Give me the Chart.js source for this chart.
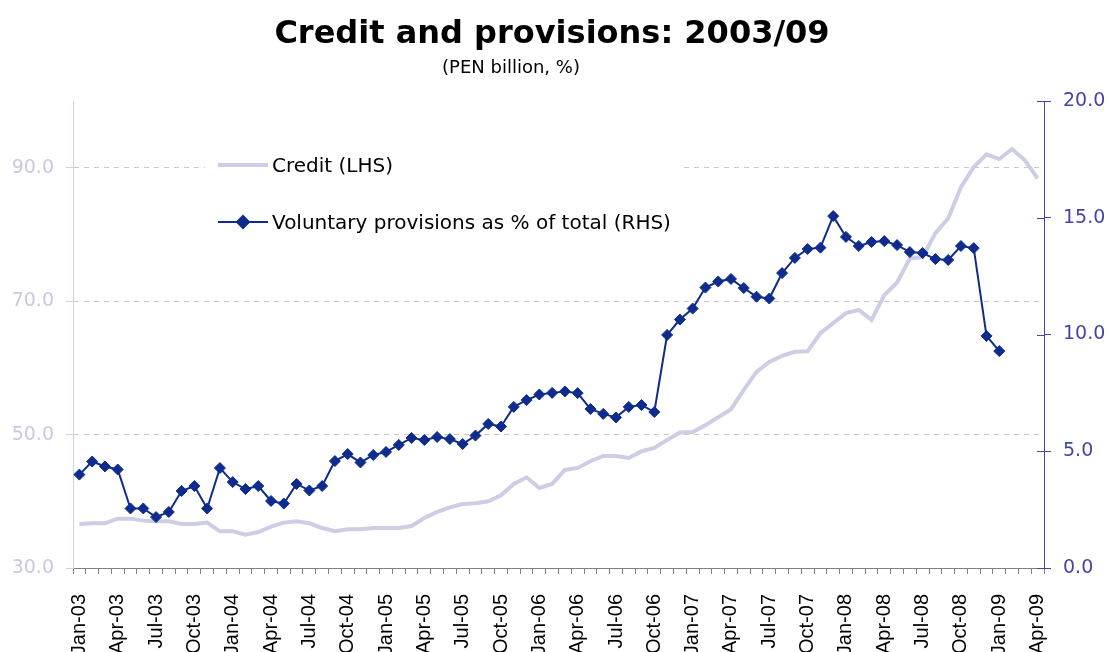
<!DOCTYPE html>
<html>
<head>
<meta charset="utf-8">
<title>Credit and provisions: 2003/09</title>
<script src="https://cdn.jsdelivr.net/npm/chart.js@4.4.1/dist/chart.umd.min.js"></script>
<style>
    html, body { margin: 0; padding: 0; background: #ffffff; }
    #chart_wrap { width: 1109px; height: 652px; }
</style>
</head>
<body>
<div id="chart_wrap"><canvas id="credit_chart" width="1109" height="652"></canvas></div>
<script>
// monthly categories, Jan-03 .. Apr-09
const months = [
    "Jan-03", "Feb-03", "Mar-03", "Apr-03", "May-03", "Jun-03", "Jul-03", "Aug-03", "Sep-03", "Oct-03", "Nov-03", "Dec-03",
    "Jan-04", "Feb-04", "Mar-04", "Apr-04", "May-04", "Jun-04", "Jul-04", "Aug-04", "Sep-04", "Oct-04", "Nov-04", "Dec-04",
    "Jan-05", "Feb-05", "Mar-05", "Apr-05", "May-05", "Jun-05", "Jul-05", "Aug-05", "Sep-05", "Oct-05", "Nov-05", "Dec-05",
    "Jan-06", "Feb-06", "Mar-06", "Apr-06", "May-06", "Jun-06", "Jul-06", "Aug-06", "Sep-06", "Oct-06", "Nov-06", "Dec-06",
    "Jan-07", "Feb-07", "Mar-07", "Apr-07", "May-07", "Jun-07", "Jul-07", "Aug-07", "Sep-07", "Oct-07", "Nov-07", "Dec-07",
    "Jan-08", "Feb-08", "Mar-08", "Apr-08", "May-08", "Jun-08", "Jul-08", "Aug-08", "Sep-08", "Oct-08", "Nov-08", "Dec-08",
    "Jan-09", "Feb-09", "Mar-09", "Apr-09",
];

// Credit, PEN billion (LHS)
const credit = [
    36.6, 36.7, 36.7, 37.4, 37.4, 37.1, 37.0, 37.0, 36.6, 36.6, 36.8, 35.5,
    35.5, 35.0, 35.4, 36.2, 36.8, 37.0, 36.7, 36.0, 35.5, 35.8, 35.8, 36.0,
    36.0, 36.0, 36.3, 37.5, 38.4, 39.1, 39.6, 39.7, 40.0, 40.9, 42.6, 43.6,
    42.0, 42.6, 44.7, 45.0, 46.0, 46.8, 46.8, 46.5, 47.5, 48.0, 49.2, 50.3,
    50.4, 51.4, 52.6, 53.8, 56.7, 59.4, 60.9, 61.8, 62.4, 62.5, 65.2, 66.7,
    68.2, 68.7, 67.2, 70.9, 72.8, 76.4, 76.6, 80.2, 82.4, 87.1, 90.1, 92.0,
    91.3, 92.8, 91.1, 88.4,
];

// Voluntary provisions as % of total (RHS), ends Jan-09
const provisions = [
    4.0, 4.56, 4.35, 4.22, 2.55, 2.55, 2.18, 2.40, 3.30, 3.51, 2.55, 4.28,
    3.68, 3.38, 3.51, 2.87, 2.76, 3.60, 3.32, 3.51, 4.58, 4.88, 4.52, 4.84,
    4.97, 5.27, 5.57, 5.48, 5.61, 5.52, 5.31, 5.67, 6.17, 6.06, 6.90, 7.19,
    7.43, 7.50, 7.56, 7.49, 6.81, 6.60, 6.45, 6.90, 6.98, 6.68, 9.98, 10.64,
    11.11, 12.01, 12.27, 12.38, 11.99, 11.62, 11.54, 12.63, 13.28, 13.66, 13.72, 15.07,
    14.18, 13.79, 13.96, 14.0, 13.83, 13.53, 13.49, 13.23, 13.19, 13.79, 13.70, 9.94,
    9.29,
];

const leftTicks = [30, 50, 70, 90];
const rightTicks = [0, 5, 10, 15, 20];

const creditColor = "#CDCDE6";
const provColor = "#0F2C8C";
const rightAxisColor = "#4545A5";

// title, subtitle and the boxed legend inside the plot
const decorations = {
    id: "decorations",
    afterDraw(chart) {
        const ctx = chart.ctx;
        ctx.save();
        ctx.fillStyle = "#000";
        ctx.textAlign = "center";
        ctx.textBaseline = "alphabetic";
        ctx.font = "bold 32px 'DejaVu Sans'";
        ctx.fillText("Credit and provisions: 2003/09", 552, 43);
        ctx.font = "18px 'DejaVu Sans'";
        ctx.fillText("(PEN billion, %)", 511, 73);

        // right axis ticks cross the axis line in the original
        const y1 = chart.scales.y1;
        ctx.strokeStyle = rightAxisColor;
        ctx.lineWidth = 1;
        rightTicks.forEach((v) => {
            const py = Math.round(y1.getPixelForValue(v)) + 0.5;
            ctx.beginPath();
            ctx.moveTo(y1.left - 7, py);
            ctx.lineTo(y1.left, py);
            ctx.stroke();
        });
        ctx.restore();
    },
    afterDatasetsDraw(chart) {
        const ctx = chart.ctx;
        ctx.save();
        ctx.fillStyle = "#fff";
        ctx.fillRect(205, 146, 477, 96);

        // Credit sample
        ctx.strokeStyle = creditColor;
        ctx.lineWidth = 4;
        ctx.beginPath();
        ctx.moveTo(218, 165);
        ctx.lineTo(268, 165);
        ctx.stroke();

        // Provisions sample
        ctx.strokeStyle = provColor;
        ctx.lineWidth = 2;
        ctx.beginPath();
        ctx.moveTo(218, 222);
        ctx.lineTo(268, 222);
        ctx.stroke();
        Chart.helpers.drawPoint(ctx, {pointStyle: "rectRot", radius: 6, rotation: 0, borderWidth: 1}, 243, 222);
        ctx.fillStyle = provColor;
        ctx.fill();

        ctx.fillStyle = "#000";
        ctx.textAlign = "left";
        ctx.font = "20px 'DejaVu Sans'";
        ctx.fillText("Credit (LHS)", 272, 172);
        ctx.fillText("Voluntary provisions as % of total (RHS)", 272, 229);
        ctx.restore();
    },
};

const ctx = document.getElementById("credit_chart").getContext("2d");
new Chart(ctx, {
    type: "line",
    data: {
        labels: months,
        datasets: [
            {
                label: "Voluntary provisions as % of total (RHS)",
                data: provisions,
                yAxisID: "y1",
                borderColor: provColor,
                backgroundColor: provColor,
                borderWidth: 2,
                pointStyle: "rectRot",
                pointRadius: 5.5,
                pointBorderWidth: 1,
                pointBackgroundColor: provColor,
                pointBorderColor: provColor,
                tension: 0,
            },
            {
                label: "Credit (LHS)",
                data: credit,
                yAxisID: "y",
                borderColor: creditColor,
                borderWidth: 4,
                pointRadius: 0,
                tension: 0,
            },
        ],
    },
    options: {
        responsive: false,
        animation: false,
        layout: {
            padding: {top: 101, left: 0, right: 0, bottom: 0},
        },
        plugins: {
            legend: {display: false},
            tooltip: {enabled: false},
            title: {display: false},
        },
        scales: {
            x: {
                offset: true,
                grid: {
                    offset: true,
                    drawOnChartArea: false,
                    drawTicks: true,
                    tickLength: 6,
                    tickColor: "#808080",
                },
                border: {display: true, color: "#808080", width: 1},
                ticks: {
                    autoSkip: false,
                    maxRotation: 90,
                    minRotation: 90,
                    padding: 20,
                    color: "#000",
                    font: {family: "'Liberation Sans'", size: 20},
                    callback: function (value, index) {
                        return index % 3 === 0 ? this.getLabelForValue(value) : "";
                    },
                },
                afterFit: (scale) => {
                    scale.height = 84;
                },
            },
            y: {
                position: "left",
                min: 30,
                max: 100,
                afterBuildTicks: (scale) => {
                    scale.ticks = leftTicks.map((v) => ({value: v}));
                },
                grid: {
                    color: "#C8C8C8",
                    lineWidth: 1,
                    tickLength: 7,
                    tickColor: "#D0D0E8",
                    tickBorderDash: [],
                },
                border: {display: true, color: "#D0D0E8", width: 1, dash: [5, 5]},
                ticks: {
                    padding: 12,
                    color: "#C8C8E2",
                    font: {family: "'DejaVu Sans'", size: 19},
                    callback: (v) => v.toFixed(1),
                },
                afterFit: (scale) => {
                    scale.width = 73;
                },
            },
            y1: {
                position: "right",
                min: 0,
                max: 20,
                afterBuildTicks: (scale) => {
                    scale.ticks = rightTicks.map((v) => ({value: v}));
                },
                grid: {
                    drawOnChartArea: false,
                    tickLength: 7,
                    tickColor: rightAxisColor,
                },
                border: {display: true, color: rightAxisColor, width: 1},
                ticks: {
                    padding: 12,
                    color: rightAxisColor,
                    font: {family: "'DejaVu Sans'", size: 19},
                    callback: (v) => v.toFixed(1),
                },
                afterFit: (scale) => {
                    scale.width = 65;
                },
            },
        },
    },
    plugins: [decorations],
});
</script>
</body>
</html>
